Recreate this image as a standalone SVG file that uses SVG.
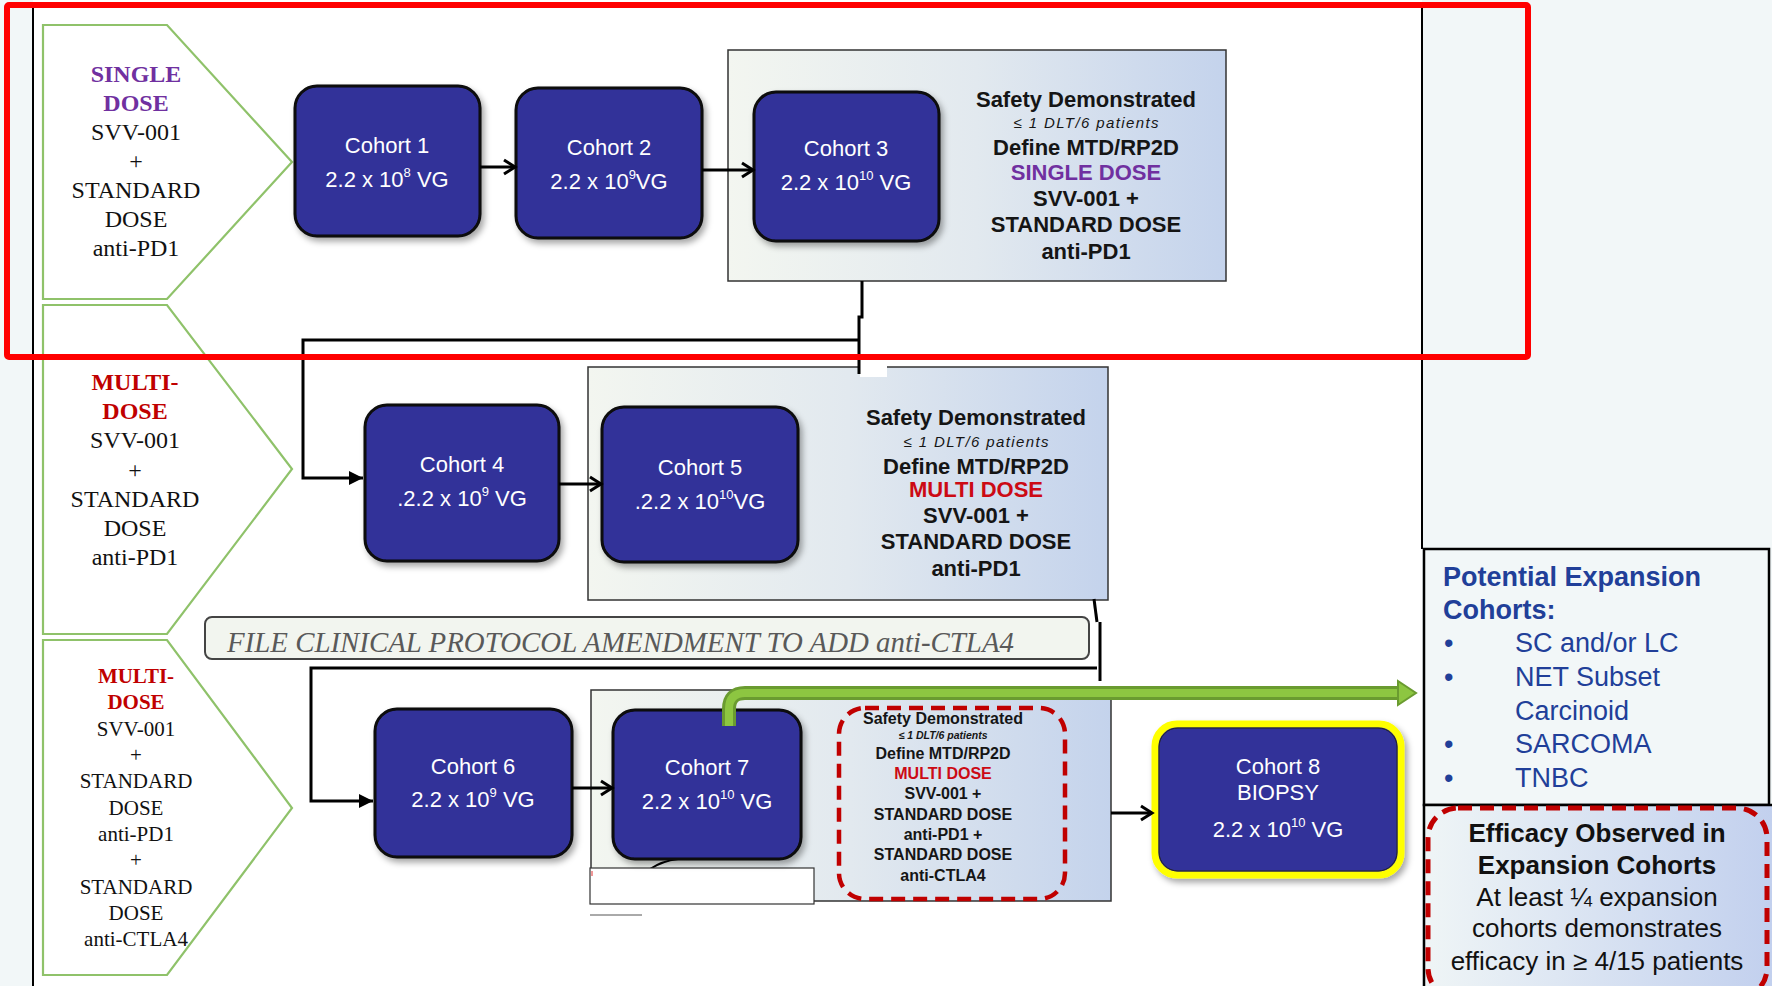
<svg xmlns="http://www.w3.org/2000/svg" width="1772" height="986" viewBox="0 0 1772 986">
<style>
.chev{fill:#fff;stroke:#8fc26a;stroke-width:2.2}
.ct{font-family:"Liberation Serif","Times New Roman",serif;font-size:24px;fill:#111;text-anchor:middle}
.ct3{font-size:21px}
.pur{fill:#7030a0;font-weight:bold}
.red{fill:#c00000;font-weight:bold}
.cohort{fill:#333399;stroke:#0a0a0a;stroke-width:3;filter:url(#sh)}
.cw{font-family:"Liberation Sans",Arial,sans-serif;font-size:22px;fill:#fff;text-anchor:middle}
.sup{font-size:13px}
.panel{fill:url(#pg);stroke:#333;stroke-width:1.5}
.pt{font-family:"Liberation Sans",Arial,sans-serif;font-size:22px;font-weight:bold;fill:#151515;text-anchor:middle}
.pti{font-style:italic;font-weight:normal;font-size:15px}
.pt3{font-size:16px}
.pti3{font-style:italic;font-size:10.5px}
.conn{fill:none;stroke:#000;stroke-width:3}
.blue{font-family:"Liberation Sans",Arial,sans-serif;font-size:27px;fill:#213f99}
.eff{font-family:"Liberation Sans",Arial,sans-serif;font-size:26px;fill:#111;text-anchor:middle}
</style>
<defs>
<linearGradient id="pg" x1="0" y1="0" x2="1" y2="0">
<stop offset="0" stop-color="#f3f6f0"/>
<stop offset="0.5" stop-color="#e2e9ef"/>
<stop offset="1" stop-color="#c4d3ec"/>
</linearGradient>
<linearGradient id="eg" x1="0" y1="0" x2="1" y2="0">
<stop offset="0" stop-color="#eff5f6"/>
<stop offset="1" stop-color="#c2d0ee"/>
</linearGradient>
<filter id="sh" x="-10%" y="-10%" width="125%" height="130%">
<feDropShadow dx="3" dy="4" stdDeviation="3" flood-color="#000" flood-opacity="0.35"/>
</filter>
<marker id="open" markerUnits="userSpaceOnUse" markerWidth="16" markerHeight="18" refX="13" refY="9" orient="auto"><path d="M2,2 L13,9 L2,16" fill="none" stroke="#000" stroke-width="3"/></marker>
<marker id="tri" markerUnits="userSpaceOnUse" markerWidth="16" markerHeight="16" refX="14" refY="8" orient="auto"><path d="M0,1 L14,8 L0,15 Z" fill="#000"/></marker>
</defs>

<rect x="0" y="0" width="1772" height="986" fill="#f2f7f8"/>
<rect x="33" y="0" width="1389" height="986" fill="#fff"/>
<line x1="33" y1="6" x2="33" y2="986" stroke="#000" stroke-width="2"/>
<line x1="1422" y1="6" x2="1422" y2="549" stroke="#000" stroke-width="2"/>

<g id="chevron-single">
<polygon class="chev" points="43,25 167,25 292,162 167,299 43,299"/>
<text class="ct"><tspan class="pur" x="136" y="82">SINGLE</tspan><tspan class="pur" x="136" y="111">DOSE</tspan><tspan x="136" y="140">SVV-001</tspan><tspan x="136" y="169">+</tspan><tspan x="136" y="198">STANDARD</tspan><tspan x="136" y="227">DOSE</tspan><tspan x="136" y="256">anti-PD1</tspan></text>
</g>
<g id="chevron-multi1">
<polygon class="chev" points="43,305 167,305 292,469 167,634 43,634"/>
<text class="ct"><tspan class="red" x="135" y="390">MULTI-</tspan><tspan class="red" x="135" y="419">DOSE</tspan><tspan x="135" y="448">SVV-001</tspan><tspan x="135" y="478">+</tspan><tspan x="135" y="507">STANDARD</tspan><tspan x="135" y="536">DOSE</tspan><tspan x="135" y="565">anti-PD1</tspan></text>
</g>
<g id="chevron-multi2">
<polygon class="chev" points="43,640 167,640 292,808 167,975 43,975"/>
<text class="ct ct3"><tspan class="red" x="136" y="683">MULTI-</tspan><tspan class="red" x="136" y="709">DOSE</tspan><tspan x="136" y="736">SVV-001</tspan><tspan x="136" y="762">+</tspan><tspan x="136" y="788">STANDARD</tspan><tspan x="136" y="815">DOSE</tspan><tspan x="136" y="841">anti-PD1</tspan><tspan x="136" y="867">+</tspan><tspan x="136" y="894">STANDARD</tspan><tspan x="136" y="920">DOSE</tspan><tspan x="136" y="946">anti-CTLA4</tspan></text>
</g>

<g id="panel-single">
<rect class="panel" x="728" y="50" width="498" height="231"/>
<text class="pt"><tspan x="1086" y="107">Safety Demonstrated</tspan><tspan class="pti" x="1086" y="128" textLength="145" lengthAdjust="spacing">≤ 1 DLT/6 patients</tspan><tspan x="1086" y="155">Define MTD/RP2D</tspan><tspan x="1086" y="180" fill="#7030a0">SINGLE DOSE</tspan><tspan x="1086" y="206">SVV-001 +</tspan><tspan x="1086" y="232">STANDARD DOSE</tspan><tspan x="1086" y="259">anti-PD1</tspan></text>
</g>
<g id="panel-multi">
<rect class="panel" x="588" y="367" width="520" height="233"/>
<rect x="860" y="364" width="27" height="13" fill="#fff"/>
<text class="pt"><tspan x="976" y="425">Safety Demonstrated</tspan><tspan class="pti" x="976" y="447" textLength="145" lengthAdjust="spacing">≤ 1 DLT/6 patients</tspan><tspan x="976" y="474">Define MTD/RP2D</tspan><tspan x="976" y="497" fill="#cc0a14">MULTI DOSE</tspan><tspan x="976" y="523">SVV-001 +</tspan><tspan x="976" y="549">STANDARD DOSE</tspan><tspan x="976" y="576">anti-PD1</tspan></text>
</g>
<g id="amendment">
<rect x="205" y="617" width="884" height="42" rx="7" fill="#f2f5ef" stroke="#444" stroke-width="2"/>
<text x="227" y="652" font-family="Liberation Serif, Times New Roman, serif" font-style="italic" font-size="29" fill="#595959" textLength="787" lengthAdjust="spacingAndGlyphs">FILE CLINICAL PROTOCOL AMENDMENT TO ADD anti-CTLA4</text>
</g>
<g id="panel-multi-ctla4">
<rect class="panel" x="591" y="690" width="520" height="211"/>
<rect x="839" y="708" width="226" height="191" rx="26" fill="none" stroke="#c00000" stroke-width="4.5" stroke-dasharray="14 8"/>
<text class="pt pt3"><tspan x="943" y="724">Safety Demonstrated</tspan><tspan class="pti3" x="943" y="739">≤ 1 DLT/6 patients</tspan><tspan x="943" y="759">Define MTD/RP2D</tspan><tspan x="943" y="779" fill="#cc0a14">MULTI DOSE</tspan><tspan x="943" y="799">SVV-001 +</tspan><tspan x="943" y="820">STANDARD DOSE</tspan><tspan x="943" y="840">anti-PD1 +</tspan><tspan x="943" y="860">STANDARD DOSE</tspan><tspan x="943" y="881">anti-CTLA4</tspan></text>
<path d="M650,869 Q662,861 678,859" fill="none" stroke="#000" stroke-width="2"/>
<rect x="590" y="868" width="224" height="36" fill="#fff" stroke="#333" stroke-width="1.2"/>
<line x1="592" y1="871" x2="592" y2="876" stroke="#e03030" stroke-width="1"/>
<line x1="590" y1="915" x2="642" y2="915" stroke="#555" stroke-width="1"/>
</g>

<g id="cohort1"><rect class="cohort" x="295" y="86" width="185" height="150" rx="22"/>
<text class="cw" x="387" y="153">Cohort  1</text>
<text class="cw" x="387" y="187">2.2 x 10<tspan class="sup" dy="-10">8</tspan><tspan dy="10"> VG</tspan></text></g>
<g id="cohort2"><rect class="cohort" x="516" y="88" width="186" height="150" rx="22"/>
<text class="cw" x="609" y="155">Cohort  2</text>
<text class="cw" x="609" y="189">2.2 x 10<tspan class="sup" dy="-10">9</tspan><tspan dy="10">VG</tspan></text></g>
<g id="cohort3"><rect class="cohort" x="754" y="92" width="185" height="149" rx="22"/>
<text class="cw" x="846" y="156">Cohort  3</text>
<text class="cw" x="846" y="190">2.2 x 10<tspan class="sup" dy="-10">10</tspan><tspan dy="10"> VG</tspan></text></g>
<g id="cohort4"><rect class="cohort" x="365" y="405" width="194" height="156" rx="22"/>
<text class="cw" x="462" y="472">Cohort  4</text>
<text class="cw" x="462" y="506">.2.2 x 10<tspan class="sup" dy="-10">9</tspan><tspan dy="10"> VG</tspan></text></g>
<g id="cohort5"><rect class="cohort" x="602" y="407" width="196" height="155" rx="22"/>
<text class="cw" x="700" y="475">Cohort  5</text>
<text class="cw" x="700" y="509">.2.2 x 10<tspan class="sup" dy="-10">10</tspan><tspan dy="10">VG</tspan></text></g>
<g id="cohort6"><rect class="cohort" x="375" y="709" width="197" height="148" rx="22"/>
<text class="cw" x="473" y="774">Cohort  6</text>
<text class="cw" x="473" y="807">2.2 x 10<tspan class="sup" dy="-10">9</tspan><tspan dy="10"> VG</tspan></text></g>
<g id="cohort7"><rect class="cohort" x="613" y="710" width="188" height="149" rx="22"/>
<text class="cw" x="707" y="775">Cohort  7</text>
<text class="cw" x="707" y="809">2.2 x 10<tspan class="sup" dy="-10">10</tspan><tspan dy="10"> VG</tspan></text></g>
<g id="cohort8"><rect x="1155" y="724" width="246" height="151" rx="22" fill="#333399" stroke="#ffff00" stroke-width="7" filter="url(#sh)"/>
<rect x="1159" y="728" width="238" height="143" rx="19" fill="none" stroke="#222" stroke-width="1"/>
<text class="cw" x="1278" y="774">Cohort  8</text>
<text class="cw" x="1278" y="800">BIOPSY</text>
<text class="cw" x="1278" y="837">2.2 x 10<tspan class="sup" dy="-10">10</tspan><tspan dy="10"> VG</tspan></text></g>

<g id="expansion">
<rect x="1424" y="549" width="345" height="256" fill="#f2f7f8" stroke="#000" stroke-width="2.5"/>
<text class="blue" font-weight="bold"><tspan x="1443" y="586">Potential Expansion</tspan><tspan x="1443" y="619">Cohorts:</tspan></text>
<text class="blue"><tspan x="1444" y="652">•</tspan><tspan x="1515" y="652">SC and/or LC</tspan><tspan x="1444" y="686">•</tspan><tspan x="1515" y="686">NET Subset</tspan><tspan x="1515" y="720">Carcinoid</tspan><tspan x="1444" y="753">•</tspan><tspan x="1515" y="753">SARCOMA</tspan><tspan x="1444" y="787">•</tspan><tspan x="1515" y="787">TNBC</tspan></text>
</g>
<g id="efficacy">
<rect x="1424" y="805" width="348" height="181" fill="url(#eg)"/>
<path d="M1424,986 V805 H1772" fill="none" stroke="#000" stroke-width="2.5"/>
<rect x="1428" y="808" width="339" height="190" rx="30" fill="none" stroke="#c00000" stroke-width="5" stroke-dasharray="14 8"/>
<text class="eff"><tspan x="1597" y="842" font-weight="bold">Efficacy Observed in</tspan><tspan x="1597" y="874" font-weight="bold">Expansion Cohorts</tspan><tspan x="1597" y="906">At least ¼ expansion</tspan><tspan x="1597" y="937">cohorts demonstrates</tspan><tspan x="1597" y="970">efficacy in ≥ 4/15 patients</tspan></text>
</g>

<g id="connectors">
<path class="conn" d="M480,167 H515" marker-end="url(#open)"/>
<path class="conn" d="M702,170 H753" marker-end="url(#open)"/>
<path class="conn" d="M862,281 V317 H859 V374"/>
<path class="conn" d="M859,340 H303 V478 H363" marker-end="url(#tri)"/>
<path class="conn" d="M559,484 H601" marker-end="url(#open)"/>
<path class="conn" d="M1094,599 L1097,622" stroke-width="2"/>
<path class="conn" d="M1100,622 V681" stroke-width="5"/>
<path class="conn" d="M1097,668 H311 V801 H373" marker-end="url(#tri)"/>
<path class="conn" d="M572,788 H612" marker-end="url(#open)"/>
<path class="conn" d="M1111,813 H1152" marker-end="url(#open)"/>
<path d="M729,726 V709 Q729,693 745,693 H1402" fill="none" stroke="#6a9b30" stroke-width="14"/>
<path d="M729,726 V709 Q729,693 745,693 H1402" fill="none" stroke="#8dc641" stroke-width="8"/>
<polygon points="1398,681 1416,693 1398,705" fill="#8dc641" stroke="#6a9b30" stroke-width="2"/>
</g>

<rect x="7" y="5" width="1521" height="352" fill="none" stroke="#ff0000" stroke-width="6" rx="2"/>
</svg>
